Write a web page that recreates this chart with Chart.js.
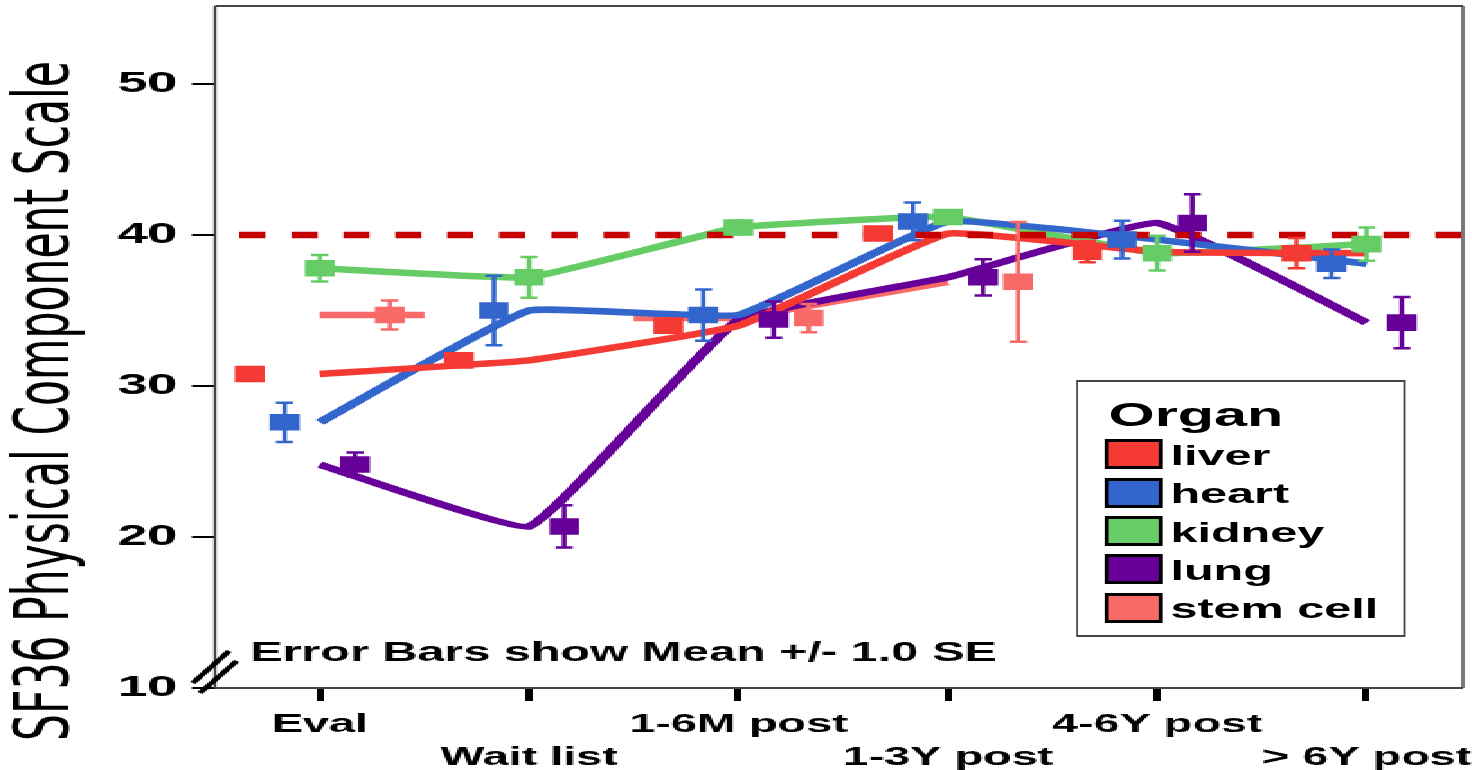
<!DOCTYPE html>
<html>
<head>
<meta charset="utf-8">
<title>SF36 Physical Component Scale by organ</title>
<script src="https://cdn.jsdelivr.net/npm/chart.js@4/dist/chart.umd.min.js"></script>
<style>
    html, body { margin: 0; padding: 0; background: #fff; overflow: hidden; }
    /* the source picture is stretched sideways, so the whole stage is too */
    #stage { position: absolute; left: 0; top: 0; width: 818px; height: 770px; transform: scaleX(1.79951); transform-origin: 0 0; }
    #sf36_chart { position: absolute; left: 0; top: 0; image-rendering: pixelated; }
    #legend { position: absolute; left: 598px; top: 380px; width: 183px; height: 257px; box-sizing: border-box;
        border-style: solid; border-color: #444; border-width: 2.6px 1.5px;
        font-family: 'Liberation Sans', Arial, sans-serif; font-weight: bold; color: #000; }
    #legend .title { position: absolute; left: 17px; top: 16px; font-size: 33px; line-height: 33px; white-space: nowrap; }
    #legend .swatch { position: absolute; left: 15px; width: 31.6px; height: 30px; box-sizing: border-box; border: solid #000; border-width: 3px 2.2px; }
    #legend .name { position: absolute; left: 51.4px; font-size: 27px; line-height: 30px; white-space: nowrap; }
</style>
</head>
<body>
<div id="stage">
    <canvas id="sf36_chart" width="818" height="770"></canvas>
    <div id="legend"><div class="title">Organ</div></div>
</div>
<script>
// --- data ---
const categories = ['Eval', 'Wait list', '1-6M post', '1-3Y post', '4-6Y post', '> 6Y post']
const organs = ['liver', 'heart', 'kidney', 'lung', 'stem cell']

const liverMean  = [30.8, 31.7, 34.0, 40.1, 38.9, 38.8]
const liverSE    = [0.4, 0.4, 0.4, 0.4, 0.7, 1.0]
const heartMean  = [27.6, 35.0, 34.7, 40.9, 39.7, 38.1]
const heartSE    = [1.3, 2.3, 1.7, 1.25, 1.25, 0.95]
const kidneyMean = [37.8, 37.2, 40.5, 41.2, 38.8, 39.4]
const kidneySE   = [0.88, 1.35, 0.45, 0.4, 1.15, 1.1]
const lungMean   = [24.8, 20.7, 34.4, 37.2, 40.8, 34.2]
const lungSE     = [0.8, 1.4, 1.2, 1.2, 1.9, 1.7]
const stemMean   = [34.7, null, 34.5, 36.9, null, null]
const stemSE     = [0.96, null, 0.93, 3.97, null, null]

const yTicks = [10, 20, 30, 40, 50]
const referenceValue = 40

const yTitle = 'SF36 Physical Component Scale'
const noteText = 'Error Bars show Mean +/- 1.0 SE'

// --- looks ---
const means = [liverMean, heartMean, kidneyMean, lungMean, stemMean]
const errors = [liverSE, heartSE, kidneySE, lungSE, stemSE]
const colors = ['#f43a33', '#3366cc', '#66cc66', '#660099', '#f86a68']
const dodge = [-0.335, -0.168, 0, 0.168, 0.335]
const xMin = -0.5
const xMax = 5.46
const fontFamily = "'Liberation Sans', Arial, sans-serif"

const legend = document.querySelector('#legend')
organs.forEach((name, k) => {
    const top = 57.4 + k * 38.3
    legend.insertAdjacentHTML('beforeend',
        `<div class="swatch" style="top:${top}px;background:${colors[k]}"></div>` +
        `<div class="name" style="top:${top + 1.7}px">${name}</div>`)
})

const decor = {
    id: 'decor',
    beforeDatasetsDraw(chart) {
        const { ctx, chartArea: a } = chart
        ctx.save()
        ctx.strokeStyle = '#444'
        ctx.lineWidth = 2
        ctx.beginPath()
        ctx.moveTo(a.left, a.top); ctx.lineTo(a.right, a.top)
        ctx.moveTo(a.left, a.bottom); ctx.lineTo(a.right, a.bottom)
        ctx.stroke()
        ctx.lineWidth = 1.4
        ctx.beginPath()
        ctx.moveTo(a.left, a.top); ctx.lineTo(a.left, a.bottom)
        ctx.moveTo(a.right, a.top); ctx.lineTo(a.right, a.bottom)
        ctx.stroke()
        ctx.restore()
    },
    afterDatasetDraw(chart, args) {
        const ds = chart.data.datasets[args.index]
        const { ctx } = chart
        const xs = chart.scales.x
        const ys = chart.scales.y
        ctx.save()
        if (ds.se) {
            ctx.strokeStyle = ds.pointBackgroundColor
            ctx.lineWidth = 2.5
            args.meta.data.forEach((pt, i) => {
                const v = ds.data[i].y
                const se = ds.se[i]
                if (v == null || se == null) return
                const yt = ys.getPixelForValue(v + se)
                const yb = ys.getPixelForValue(v - se)
                ctx.beginPath()
                ctx.moveTo(pt.x, yt); ctx.lineTo(pt.x, yb)
                ctx.moveTo(pt.x - 4.75, yt); ctx.lineTo(pt.x + 4.75, yt)
                ctx.moveTo(pt.x - 4.75, yb); ctx.lineTo(pt.x + 4.75, yb)
                ctx.stroke()
            })
        }
        if (ds.means) {
            // a single missing value leaves a flat half step on both sides
            const m = ds.means
            ctx.strokeStyle = ds.borderColor
            ctx.lineWidth = ds.borderWidth
            for (let i = 1; i < m.length - 1; i++) {
                if (m[i] != null || m[i - 1] == null || m[i + 1] == null) continue
                ctx.beginPath()
                ctx.moveTo(xs.getPixelForValue(i - 1), ys.getPixelForValue(m[i - 1]))
                ctx.lineTo(xs.getPixelForValue(i - 0.5), ys.getPixelForValue(m[i - 1]))
                ctx.moveTo(xs.getPixelForValue(i + 0.5), ys.getPixelForValue(m[i + 1]))
                ctx.lineTo(xs.getPixelForValue(i + 1), ys.getPixelForValue(m[i + 1]))
                ctx.stroke()
            }
        }
        ctx.restore()
    },
    afterDraw(chart) {
        const { ctx, chartArea: a } = chart
        ctx.save()
        // axis break
        ctx.strokeStyle = '#000'
        ctx.lineWidth = 3.5
        ctx.beginPath()
        ctx.moveTo(a.left - 12.4, a.bottom - 5); ctx.lineTo(a.left + 7.8, a.bottom - 37)
        ctx.moveTo(a.left - 8.4, a.bottom + 5); ctx.lineTo(a.left + 12, a.bottom - 27)
        ctx.stroke()
        // note
        ctx.fillStyle = '#000'
        ctx.font = 'bold 27px ' + fontFamily
        ctx.textAlign = 'left'
        ctx.textBaseline = 'alphabetic'
        ctx.fillText(noteText, a.left + 19.5, a.bottom - 27)
        // y title
        ctx.translate(38.3, 401)
        ctx.rotate(-Math.PI / 2)
        ctx.font = "42.5px 'DejaVu Sans', sans-serif"
        ctx.textAlign = 'center'
        ctx.fillText(yTitle, 0, 0)
        ctx.restore()
    }
}

const lineSets = organs.map((name, k) => ({
    label: name,
    data: means[k].map((v, i) => ({ x: i, y: v })),
    means: means[k],
    borderColor: colors[k],
    borderWidth: 6.5,
    pointRadius: 0,
    tension: 0.1,
    spanGaps: false,
    order: 2
}))

const markerSets = organs.map((name, k) => ({
    label: name + ' mean',
    data: means[k].map((v, i) => ({ x: i + dodge[k], y: v })),
    se: errors[k],
    showLine: false,
    pointStyle: 'rect',
    pointRadius: 11.7,
    pointBorderWidth: 0,
    pointBackgroundColor: colors[k],
    order: 0
}))

const referenceSet = {
    label: 'reference',
    data: [{ x: xMin, y: referenceValue }, { x: xMax, y: referenceValue }],
    borderColor: '#c40000',
    borderWidth: 6.5,
    borderDash: [14.45, 14.45],
    borderDashOffset: 15.4,
    pointRadius: 0,
    order: 1
}

const sf36_chart = document.querySelector('#sf36_chart')
function sf36Chart() {
    new Chart(sf36_chart, {
        type: 'line',
        data: { datasets: [...lineSets, referenceSet, ...markerSets] },
        options: {
            responsive: false,
            animation: false,
            events: [],
            layout: { autoPadding: false, padding: { top: 6, right: 5, left: 0, bottom: 0 } },
            plugins: { legend: { display: false }, tooltip: { enabled: false } },
            scales: {
                x: {
                    type: 'linear',
                    min: xMin,
                    max: xMax,
                    afterBuildTicks: scale => { scale.ticks = categories.map((c, i) => ({ value: i })) },
                    afterFit: scale => {
                        scale.height = 82
                        scale.paddingLeft = 0
                        scale.paddingRight = 0
                    },
                    border: { display: false },
                    grid: { drawOnChartArea: false, tickLength: 13, lineWidth: 4, color: '#000' },
                    ticks: {
                        autoSkip: false,
                        maxRotation: 0,
                        minRotation: 0,
                        padding: 7,
                        color: '#000',
                        font: { family: fontFamily, size: 26, weight: 'bold', lineHeight: 1.27 },
                        callback: value => {
                            const i = Math.round(value)
                            return i % 2 === 0 ? [categories[i], ''] : ['', categories[i]]
                        }
                    }
                },
                y: {
                    min: yTicks[0],
                    max: 55.17,
                    afterBuildTicks: scale => { scale.ticks = yTicks.map(v => ({ value: v })) },
                    afterFit: scale => {
                        scale.width = 119.5
                        scale.paddingTop = 0
                        scale.paddingBottom = 0
                    },
                    border: { display: false },
                    grid: { drawOnChartArea: false, tickLength: 13, lineWidth: 2, color: '#000' },
                    ticks: {
                        padding: 8,
                        color: '#000',
                        font: { family: fontFamily, size: 30, weight: 'bold' }
                    }
                }
            }
        },
        plugins: [decor]
    })
}

sf36Chart()
</script>
</body>
</html>
